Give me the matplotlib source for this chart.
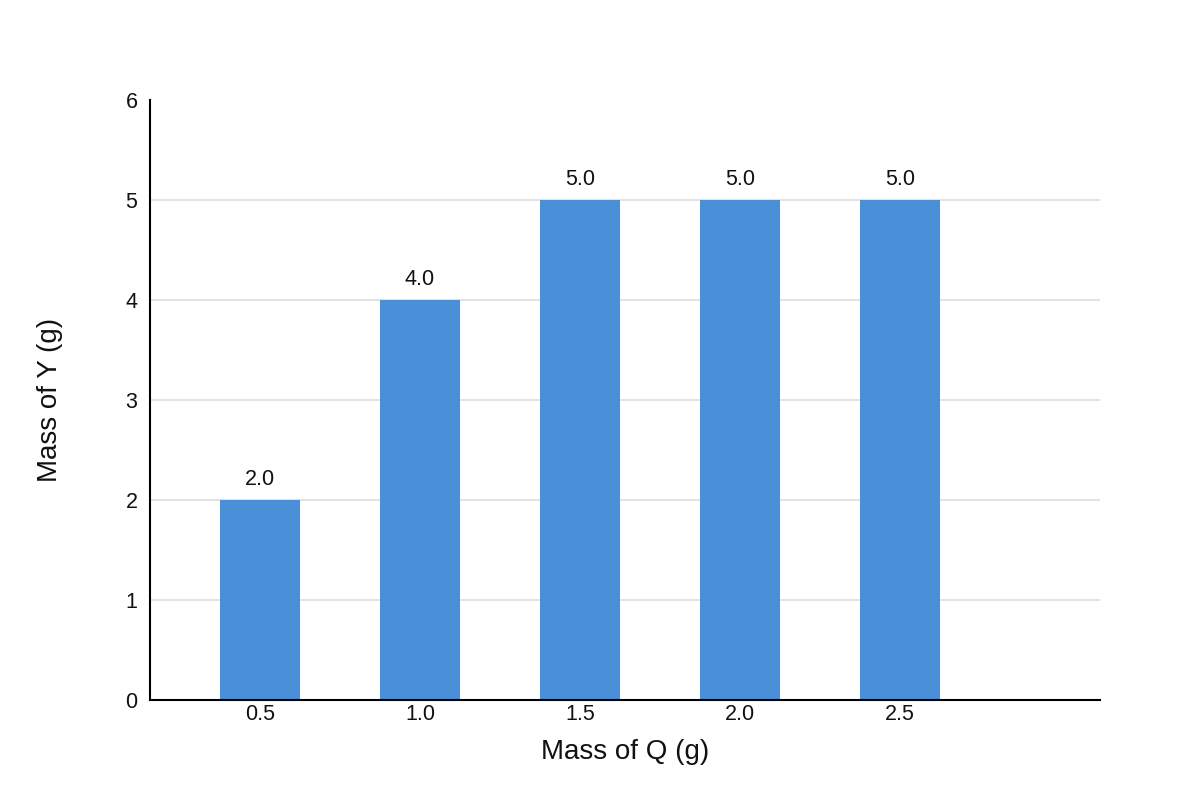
import matplotlib.pyplot as plt

plt.rcParams['font.family'] = ['Liberation Sans', 'DejaVu Sans']

# data
mass_q = ["0.5", "1.0", "1.5", "2.0", "2.5"]
mass_y = [2.0, 4.0, 5.0, 5.0, 5.0]

bar_color = "#4A90D9"

fig = plt.figure(figsize=(12, 8), dpi=100)
ax = fig.add_axes([0.125, 0.125, 950 / 1200, 0.75])

pos = list(range(len(mass_q)))
bars = ax.bar(pos, mass_y, width=0.5, color=bar_color, zorder=3)

# value labels above bars
for b, v in zip(bars, mass_y):
    ax.text(b.get_x() + b.get_width() / 2, v + 0.1, f"{v:.1f}",
            ha="center", va="bottom", fontsize=15.5, color="#111111")

ax.set_xlim(-0.6875, 5.25)
ax.set_ylim(0, 6)
ax.set_xticks(pos)
ax.set_xticklabels(mass_q)
ax.set_yticks(range(0, 7))

ax.tick_params(axis="both", length=0, labelsize=15.5, colors="#111111")
ax.tick_params(axis="y", pad=9)
ax.tick_params(axis="x", pad=3)
for lbl in ax.get_yticklabels():
    lbl.set_y(lbl.get_position()[1])
    lbl.set_va("center_baseline")

# light horizontal gridlines (not at 0 or 6)
for y in range(1, 6):
    ax.axhline(y, color="#dddddd", linewidth=1.2, zorder=1)

for s in ["top", "right"]:
    ax.spines[s].set_visible(False)
ax.spines["left"].set_linewidth(1.5)
ax.spines["bottom"].set_linewidth(1.5)
ax.spines["left"].set_zorder(4)
ax.spines["bottom"].set_zorder(4)

ax.set_xlabel("Mass of Q (g)", fontsize=20, labelpad=10, color="#111111")
ax.set_ylabel("Mass of Y (g)", fontsize=20, labelpad=45, color="#111111")

fig.savefig("out.png", dpi=100)
